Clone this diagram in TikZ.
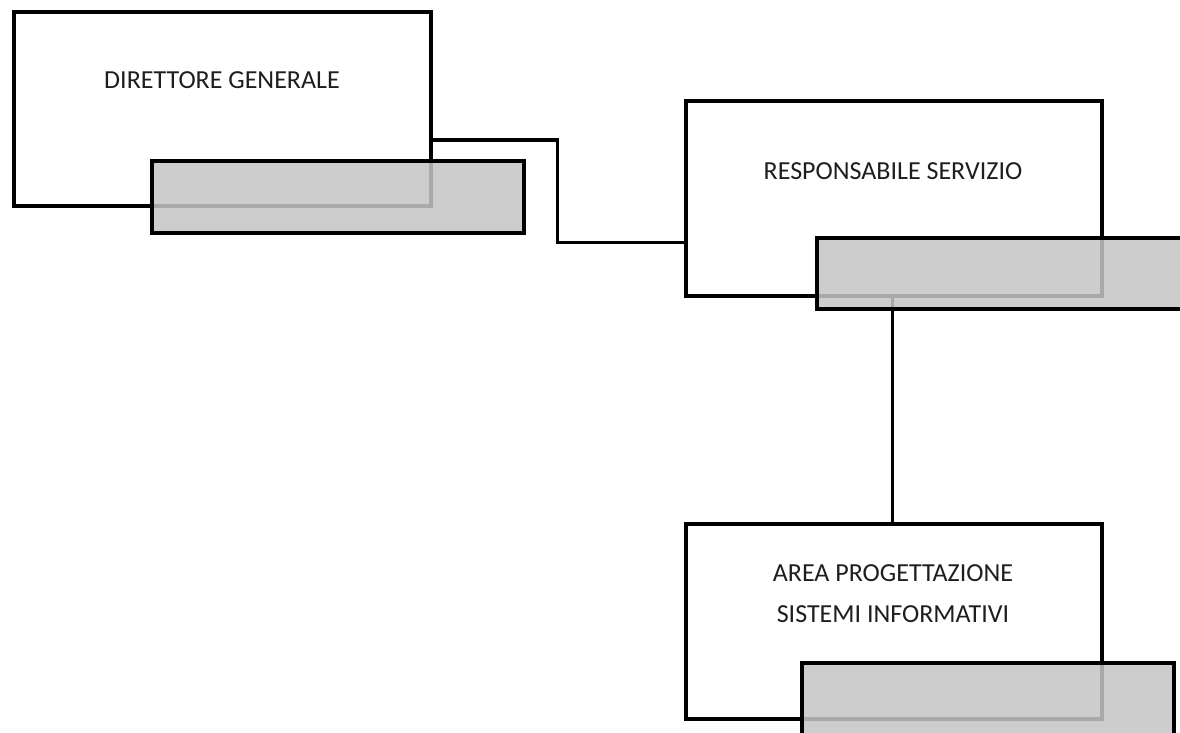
\documentclass[tikz,border=0pt]{standalone}
\usepackage{fontspec}
\setmainfont{Carlito}
\definecolor{shadegray}{RGB}{197,197,197}
\definecolor{txt}{RGB}{30,30,30}
\begin{document}
\begin{tikzpicture}[x=1pt,y=-1pt,
  unitbox/.style={draw=black,line width=4pt,fill=white,inner sep=0pt,outer sep=0pt,
    minimum width=416pt,minimum height=195pt},
  shadebox/.style={draw=black,line width=4pt,fill=shadegray,fill opacity=0.86,draw opacity=1,
    inner sep=0pt,outer sep=0pt,minimum width=372pt,minimum height=72pt},
  lbl/.style={font=\fontsize{26}{41}\selectfont,text=txt,align=center,inner sep=0pt},
  link/.style={draw=black,line width=3pt}]
\useasboundingbox (0,0) rectangle (1180,733);
\clip (0,0) rectangle (1180,733);
% white boxes
\node[unitbox,minimum width=417pt,minimum height=194pt] (b1) at (222.5,109) {};
\node[unitbox] (b2) at (894,198.5) {};
\node[unitbox] (b3) at (894,621.5) {};
% labels
\node[lbl] (t1) at (222,80) {DIRETTORE GENERALE};
\node[lbl] (t2) at (893,171) {RESPONSABILE SERVIZIO};
\node[lbl] (t3) at (893,593.5) {AREA PROGETTAZIONE\\SISTEMI INFORMATIVI};
% connectors
\coordinate (k1) at (557,242);
\draw[link] ([yshift=-31pt]b1.east) -| (k1) -- ([yshift=-43.5pt]b2.west);
\draw[link] ([xshift=-2pt]b2.south) -- ([xshift=-2pt]b3.north);
% shaded boxes
\node[shadebox] (g1) at (338,197) {};
\node[shadebox,minimum width=373pt,minimum height=71pt] (g2) at (1003.5,273.5) {};
\node[shadebox] (g3) at (988,699) {};
\end{tikzpicture}
\end{document}
